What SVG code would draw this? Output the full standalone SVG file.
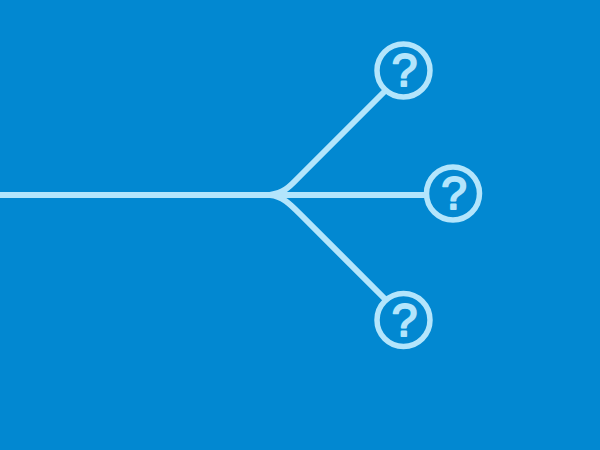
<svg xmlns="http://www.w3.org/2000/svg" width="600" height="450" viewBox="0 0 600 450">
<style>
.l{fill:none;stroke:#b3e5fc;stroke-width:6;stroke-linecap:butt}
.c{fill:#0288d1;stroke:#b3e5fc;stroke-width:5.500}
.q{fill:#b3e5fc;stroke:#b3e5fc;stroke-width:2;stroke-linejoin:round;font-family:"Liberation Sans",Arial,sans-serif;font-weight:400;font-size:46px;text-anchor:middle}
</style>
<rect width="600" height="450" fill="#0288d1"/>
<g id="connectors">
<path class="l" d="M0 195H428"/>
<path class="l" d="M270 195C286 192 290 186 300 176L386 90"/>
<path class="l" d="M270 195C282 196 290 204 300 214L386 300"/>
</g>
<g id="node-top"><circle class="c" cx="403.500" cy="70.500" r="26.500"/><text class="q" x="404.500" y="86">?</text></g>
<g id="node-middle"><circle class="c" cx="453" cy="193.500" r="26.500"/><text class="q" x="454" y="209">?</text></g>
<g id="node-bottom"><circle class="c" cx="403.500" cy="320" r="26.500"/><text class="q" x="404.500" y="335.500">?</text></g>
</svg>
